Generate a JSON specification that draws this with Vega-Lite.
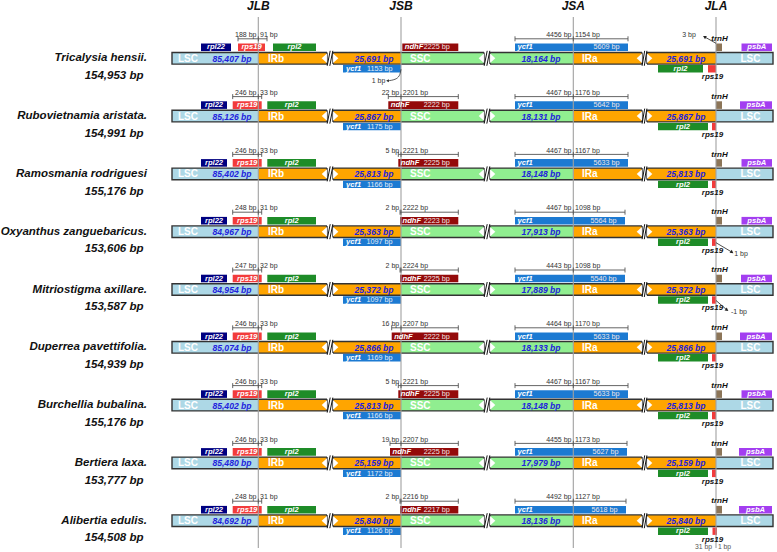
{
  "$schema": "https://vega.github.io/schema/vega-lite/v6.json",
  "width": 777,
  "height": 552,
  "autosize": {"type": "fit", "contains": "padding"},
  "padding": 0,
  "background": "white",
  "config": {
    "view": {"stroke": null},
    "font": "Liberation Sans",
    "axis": {"disable": true},
    "legend": {"disable": true}
  },
  "datasets": {
    "species": [
      {"row": 0, "name": "Tricalysia hensii.", "total": "154,953 bp", "LSC": "85,407 bp", "IRb": "25,691 bp", "SSC": "18,164 bp", "IRa": "25,691 bp", "LSC2": ""},
      {"row": 1, "name": "Rubovietnamia aristata.", "total": "154,991 bp", "LSC": "85,126 bp", "IRb": "25,867 bp", "SSC": "18,131 bp", "IRa": "25,867 bp", "LSC2": ""},
      {"row": 2, "name": "Ramosmania rodriguesi", "total": "155,176 bp", "LSC": "85,402 bp", "IRb": "25,813 bp", "SSC": "18,148 bp", "IRa": "25,813 bp", "LSC2": ""},
      {"row": 3, "name": "Oxyanthus zanguebaricus.", "total": "153,606 bp", "LSC": "84,967 bp", "IRb": "25,363 bp", "SSC": "17,913 bp", "IRa": "25,363 bp", "LSC2": ""},
      {"row": 4, "name": "Mitriostigma axillare.", "total": "153,587 bp", "LSC": "84,954 bp", "IRb": "25,372 bp", "SSC": "17,889 bp", "IRa": "25,372 bp", "LSC2": ""},
      {"row": 5, "name": "Duperrea pavettifolia.", "total": "154,939 bp", "LSC": "85,074 bp", "IRb": "25,866 bp", "SSC": "18,133 bp", "IRa": "25,866 bp", "LSC2": ""},
      {"row": 6, "name": "Burchellia bubalina.", "total": "155,176 bp", "LSC": "85,402 bp", "IRb": "25,813 bp", "SSC": "18,148 bp", "IRa": "25,813 bp", "LSC2": ""},
      {"row": 7, "name": "Bertiera laxa.", "total": "153,777 bp", "LSC": "85,480 bp", "IRb": "25,159 bp", "SSC": "17,979 bp", "IRa": "25,159 bp", "LSC2": ""},
      {"row": 8, "name": "Alibertia edulis.", "total": "154,508 bp", "LSC": "84,692 bp", "IRb": "25,840 bp", "SSC": "18,136 bp", "IRa": "25,840 bp", "LSC2": ""}
    ],
    "regions": [
      {"key": "LSC", "label": "LSC", "start": 172, "end": 258.3, "nameX": 178, "sizeX": 232},
      {"key": "IRb", "label": "IRb", "start": 258.3, "end": 401, "nameX": 268, "sizeX": 374},
      {"key": "SSC", "label": "SSC", "start": 401, "end": 573.3, "nameX": 410, "sizeX": 541},
      {"key": "IRa", "label": "IRa", "start": 573.3, "end": 716, "nameX": 582, "sizeX": 686},
      {"key": "LSC2", "label": "LSC", "start": 716, "end": 773, "nameX": 740.5, "sizeX": 744}
    ],
    "breaks": [
      {"key": "IRb", "gs": 327, "ge": 333, "t1": 324.3, "t2": 335.7, "s1a": 327.2, "s1b": 330.2, "s2a": 329.8, "s2b": 332.8},
      {"key": "SSC", "gs": 484, "ge": 490, "t1": 481.3, "t2": 492.7, "s1a": 484.2, "s1b": 487.2, "s2a": 486.8, "s2b": 489.8},
      {"key": "IRa", "gs": 642, "ge": 647, "t1": 639.3, "t2": 649.7, "s1a": 642.1, "s1b": 644.7, "s2a": 644.3, "s2b": 646.9}
    ],
    "junctions": [
      {"name": "JLB", "pos": 258.3},
      {"name": "JSB", "pos": 401},
      {"name": "JSA", "pos": 573.3},
      {"name": "JLA", "pos": 716}
    ],
    "genes": [
      {"row": 0, "gene": "rpl22", "lane": "up", "start": 201, "end": 231, "label": "rpl22", "style": "c"},
      {"row": 0, "gene": "rps19", "lane": "up", "start": 238, "end": 265, "label": "rps19", "style": "c"},
      {"row": 0, "gene": "rpl2", "lane": "up", "start": 273, "end": 316, "label": "rpl2", "style": "c"},
      {"row": 0, "gene": "ndhF", "lane": "up", "start": 402.3, "end": 458.3, "label": "ndhF", "len": "2225 bp", "style": "l"},
      {"row": 0, "gene": "ycf1", "lane": "up", "start": 515, "end": 628, "label": "ycf1", "len": "5609 bp", "style": "l"},
      {"row": 0, "gene": "trnH", "lane": "up", "start": 716, "end": 722, "style": "n"},
      {"row": 0, "gene": "psbA", "lane": "up", "start": 741.5, "end": 772, "label": "psbA", "style": "c"},
      {"row": 0, "gene": "ycf1", "lane": "down", "start": 343, "end": 401, "label": "ycf1", "len": "1153 bp", "style": "l"},
      {"row": 0, "gene": "rpl2", "lane": "down", "start": 658, "end": 703, "label": "rpl2", "style": "c"},
      {"row": 0, "gene": "rps19", "lane": "down", "start": 708, "end": 716, "style": "n"},

      {"row": 1, "gene": "rpl22", "lane": "up", "start": 201, "end": 227, "label": "rpl22", "style": "c"},
      {"row": 1, "gene": "rps19", "lane": "up", "start": 232.7, "end": 261.7, "label": "rps19", "style": "c"},
      {"row": 1, "gene": "rpl2", "lane": "up", "start": 267.3, "end": 316, "label": "rpl2", "style": "c"},
      {"row": 1, "gene": "ndhF", "lane": "up", "start": 388.3, "end": 458.3, "label": "ndhF", "len": "2222 bp", "style": "l"},
      {"row": 1, "gene": "ycf1", "lane": "up", "start": 515, "end": 628, "label": "ycf1", "len": "5642 bp", "style": "l"},
      {"row": 1, "gene": "trnH", "lane": "up", "start": 716, "end": 722, "style": "n"},
      {"row": 1, "gene": "psbA", "lane": "up", "start": 740, "end": 772, "label": "psbA", "style": "c"},
      {"row": 1, "gene": "ycf1", "lane": "down", "start": 343, "end": 401, "label": "ycf1", "len": "1175 bp", "style": "l"},
      {"row": 1, "gene": "rpl2", "lane": "down", "start": 658, "end": 708, "label": "rpl2", "style": "c"},
      {"row": 1, "gene": "rps19", "lane": "down", "start": 712, "end": 716, "style": "n"},

      {"row": 2, "gene": "rpl22", "lane": "up", "start": 201, "end": 227, "label": "rpl22", "style": "c"},
      {"row": 2, "gene": "rps19", "lane": "up", "start": 232.7, "end": 261.7, "label": "rps19", "style": "c"},
      {"row": 2, "gene": "rpl2", "lane": "up", "start": 267.3, "end": 316, "label": "rpl2", "style": "c"},
      {"row": 2, "gene": "ndhF", "lane": "up", "start": 398.3, "end": 458.3, "label": "ndhF", "len": "2225 bp", "style": "l"},
      {"row": 2, "gene": "ycf1", "lane": "up", "start": 515, "end": 628, "label": "ycf1", "len": "5633 bp", "style": "l"},
      {"row": 2, "gene": "trnH", "lane": "up", "start": 716, "end": 722, "style": "n"},
      {"row": 2, "gene": "psbA", "lane": "up", "start": 741.5, "end": 772, "label": "psbA", "style": "c"},
      {"row": 2, "gene": "ycf1", "lane": "down", "start": 343, "end": 401, "label": "ycf1", "len": "1166 bp", "style": "l"},
      {"row": 2, "gene": "rpl2", "lane": "down", "start": 658, "end": 708, "label": "rpl2", "style": "c"},
      {"row": 2, "gene": "rps19", "lane": "down", "start": 712, "end": 716, "style": "n"},

      {"row": 3, "gene": "rpl22", "lane": "up", "start": 201, "end": 227, "label": "rpl22", "style": "c"},
      {"row": 3, "gene": "rps19", "lane": "up", "start": 232.7, "end": 261.7, "label": "rps19", "style": "c"},
      {"row": 3, "gene": "rpl2", "lane": "up", "start": 267.3, "end": 316, "label": "rpl2", "style": "c"},
      {"row": 3, "gene": "ndhF", "lane": "up", "start": 400, "end": 458.3, "label": "ndhF", "len": "2223 bp", "style": "l"},
      {"row": 3, "gene": "ycf1", "lane": "up", "start": 515, "end": 625, "label": "ycf1", "len": "5564 bp", "style": "l"},
      {"row": 3, "gene": "trnH", "lane": "up", "start": 716, "end": 722, "style": "n"},
      {"row": 3, "gene": "psbA", "lane": "up", "start": 741.5, "end": 772, "label": "psbA", "style": "c"},
      {"row": 3, "gene": "ycf1", "lane": "down", "start": 343, "end": 401, "label": "ycf1", "len": "1097 bp", "style": "l"},
      {"row": 3, "gene": "rpl2", "lane": "down", "start": 658, "end": 708, "label": "rpl2", "style": "c"},
      {"row": 3, "gene": "rps19", "lane": "down", "start": 712, "end": 716, "style": "n"},

      {"row": 4, "gene": "rpl22", "lane": "up", "start": 201, "end": 227, "label": "rpl22", "style": "c"},
      {"row": 4, "gene": "rps19", "lane": "up", "start": 232.7, "end": 261.7, "label": "rps19", "style": "c"},
      {"row": 4, "gene": "rpl2", "lane": "up", "start": 267.3, "end": 316, "label": "rpl2", "style": "c"},
      {"row": 4, "gene": "ndhF", "lane": "up", "start": 400, "end": 458.3, "label": "ndhF", "len": "2225 bp", "style": "l"},
      {"row": 4, "gene": "ycf1", "lane": "up", "start": 515, "end": 625, "label": "ycf1", "len": "5540 bp", "style": "l"},
      {"row": 4, "gene": "trnH", "lane": "up", "start": 716, "end": 722, "style": "n"},
      {"row": 4, "gene": "psbA", "lane": "up", "start": 741, "end": 772, "label": "psbA", "style": "c"},
      {"row": 4, "gene": "ycf1", "lane": "down", "start": 343, "end": 401, "label": "ycf1", "len": "1097 bp", "style": "l"},
      {"row": 4, "gene": "rpl2", "lane": "down", "start": 658, "end": 708, "label": "rpl2", "style": "c"},
      {"row": 4, "gene": "rps19", "lane": "down", "start": 712, "end": 716, "style": "n"},

      {"row": 5, "gene": "rpl22", "lane": "up", "start": 201, "end": 227, "label": "rpl22", "style": "c"},
      {"row": 5, "gene": "rps19", "lane": "up", "start": 232.7, "end": 261.7, "label": "rps19", "style": "c"},
      {"row": 5, "gene": "rpl2", "lane": "up", "start": 267.3, "end": 316, "label": "rpl2", "style": "c"},
      {"row": 5, "gene": "ndhF", "lane": "up", "start": 391.7, "end": 458.3, "label": "ndhF", "len": "2222 bp", "style": "l"},
      {"row": 5, "gene": "ycf1", "lane": "up", "start": 515, "end": 628, "label": "ycf1", "len": "5633 bp", "style": "l"},
      {"row": 5, "gene": "trnH", "lane": "up", "start": 716, "end": 722, "style": "n"},
      {"row": 5, "gene": "psbA", "lane": "up", "start": 740, "end": 772, "label": "psbA", "style": "c"},
      {"row": 5, "gene": "ycf1", "lane": "down", "start": 343, "end": 401, "label": "ycf1", "len": "1169 bp", "style": "l"},
      {"row": 5, "gene": "rpl2", "lane": "down", "start": 658, "end": 708, "label": "rpl2", "style": "c"},
      {"row": 5, "gene": "rps19", "lane": "down", "start": 712, "end": 716, "style": "n"},

      {"row": 6, "gene": "rpl22", "lane": "up", "start": 201, "end": 227, "label": "rpl22", "style": "c"},
      {"row": 6, "gene": "rps19", "lane": "up", "start": 232.7, "end": 261.7, "label": "rps19", "style": "c"},
      {"row": 6, "gene": "rpl2", "lane": "up", "start": 267.3, "end": 316, "label": "rpl2", "style": "c"},
      {"row": 6, "gene": "ndhF", "lane": "up", "start": 398.3, "end": 458.3, "label": "ndhF", "len": "2225 bp", "style": "l"},
      {"row": 6, "gene": "ycf1", "lane": "up", "start": 515, "end": 628, "label": "ycf1", "len": "5633 bp", "style": "l"},
      {"row": 6, "gene": "trnH", "lane": "up", "start": 716, "end": 722, "style": "n"},
      {"row": 6, "gene": "psbA", "lane": "up", "start": 741.5, "end": 772, "label": "psbA", "style": "c"},
      {"row": 6, "gene": "ycf1", "lane": "down", "start": 343, "end": 401, "label": "ycf1", "len": "1166 bp", "style": "l"},
      {"row": 6, "gene": "rpl2", "lane": "down", "start": 658, "end": 708, "label": "rpl2", "style": "c"},
      {"row": 6, "gene": "rps19", "lane": "down", "start": 712, "end": 716, "style": "n"},

      {"row": 7, "gene": "rpl22", "lane": "up", "start": 201, "end": 227, "label": "rpl22", "style": "c"},
      {"row": 7, "gene": "rps19", "lane": "up", "start": 232.7, "end": 261.7, "label": "rps19", "style": "c"},
      {"row": 7, "gene": "rpl2", "lane": "up", "start": 267.3, "end": 316, "label": "rpl2", "style": "c"},
      {"row": 7, "gene": "ndhF", "lane": "up", "start": 390, "end": 458.3, "label": "ndhF", "len": "2225 bp", "style": "l"},
      {"row": 7, "gene": "ycf1", "lane": "up", "start": 515, "end": 627, "label": "ycf1", "len": "5627 bp", "style": "l"},
      {"row": 7, "gene": "trnH", "lane": "up", "start": 716, "end": 722, "style": "n"},
      {"row": 7, "gene": "psbA", "lane": "up", "start": 739, "end": 772, "label": "psbA", "style": "c"},
      {"row": 7, "gene": "ycf1", "lane": "down", "start": 343, "end": 401, "label": "ycf1", "len": "1172 bp", "style": "l"},
      {"row": 7, "gene": "rpl2", "lane": "down", "start": 658, "end": 708, "label": "rpl2", "style": "c"},
      {"row": 7, "gene": "rps19", "lane": "down", "start": 712, "end": 716, "style": "n"},

      {"row": 8, "gene": "rpl22", "lane": "up", "start": 201, "end": 227, "label": "rpl22", "style": "c"},
      {"row": 8, "gene": "rps19", "lane": "up", "start": 232.7, "end": 261.7, "label": "rps19", "style": "c"},
      {"row": 8, "gene": "rpl2", "lane": "up", "start": 267.3, "end": 316, "label": "rpl2", "style": "c"},
      {"row": 8, "gene": "ndhF", "lane": "up", "start": 400, "end": 458.3, "label": "ndhF", "len": "2217 bp", "style": "l"},
      {"row": 8, "gene": "ycf1", "lane": "up", "start": 515, "end": 626, "label": "ycf1", "len": "5618 bp", "style": "l"},
      {"row": 8, "gene": "trnH", "lane": "up", "start": 716, "end": 722, "style": "n"},
      {"row": 8, "gene": "psbA", "lane": "up", "start": 739, "end": 772, "label": "psbA", "style": "c"},
      {"row": 8, "gene": "ycf1", "lane": "down", "start": 343, "end": 401, "label": "ycf1", "len": "1126 bp", "style": "l"},
      {"row": 8, "gene": "rpl2", "lane": "down", "start": 658, "end": 708, "label": "rpl2", "style": "c"},
      {"row": 8, "gene": "rps19", "lane": "down", "start": 712.5, "end": 717, "style": "n"}
    ],
    "brackets": [
      {"row": 0, "a": 238, "j": 258.3, "b": 267, "lt": "188 bp", "rt": "91 bp"},
      {"row": 1, "a": 232.7, "j": 258.3, "b": 261.7, "lt": "246 bp", "rt": "33 bp"},
      {"row": 2, "a": 232.7, "j": 258.3, "b": 261.7, "lt": "246 bp", "rt": "33 bp"},
      {"row": 3, "a": 232.7, "j": 258.3, "b": 261.7, "lt": "248 bp", "rt": "31 bp"},
      {"row": 4, "a": 232.7, "j": 258.3, "b": 261.7, "lt": "247 bp", "rt": "32 bp"},
      {"row": 5, "a": 232.7, "j": 258.3, "b": 261.7, "lt": "246 bp", "rt": "33 bp"},
      {"row": 6, "a": 232.7, "j": 258.3, "b": 261.7, "lt": "246 bp", "rt": "33 bp"},
      {"row": 7, "a": 232.7, "j": 258.3, "b": 261.7, "lt": "246 bp", "rt": "33 bp"},
      {"row": 8, "a": 232.7, "j": 258.3, "b": 261.7, "lt": "248 bp", "rt": "31 bp"},
      {"row": 1, "a": 388.3, "j": 401, "b": 458.3, "lt": "22 bp", "rt": "2201 bp"},
      {"row": 2, "a": 398.3, "j": 401, "b": 458.3, "lt": "5 bp", "rt": "2221 bp"},
      {"row": 3, "a": 400, "j": 401, "b": 458.3, "lt": "2 bp", "rt": "2222 bp"},
      {"row": 4, "a": 400, "j": 401, "b": 458.3, "lt": "2 bp", "rt": "2224 bp"},
      {"row": 5, "a": 391.7, "j": 401, "b": 458.3, "lt": "16 bp", "rt": "2207 bp"},
      {"row": 6, "a": 398.3, "j": 401, "b": 458.3, "lt": "5 bp", "rt": "2221 bp"},
      {"row": 7, "a": 390, "j": 401, "b": 458.3, "lt": "19 bp", "rt": "2207 bp"},
      {"row": 8, "a": 400, "j": 401, "b": 458.3, "lt": "2 bp", "rt": "2216 bp"},
      {"row": 0, "a": 515, "j": 573.3, "b": 628, "lt": "4456 bp", "rt": "1154 bp"},
      {"row": 1, "a": 515, "j": 573.3, "b": 628, "lt": "4467 bp", "rt": "1176 bp"},
      {"row": 2, "a": 515, "j": 573.3, "b": 628, "lt": "4467 bp", "rt": "1167 bp"},
      {"row": 3, "a": 515, "j": 573.3, "b": 625, "lt": "4467 bp", "rt": "1098 bp"},
      {"row": 4, "a": 515, "j": 573.3, "b": 625, "lt": "4443 bp", "rt": "1098 bp"},
      {"row": 5, "a": 515, "j": 573.3, "b": 628, "lt": "4464 bp", "rt": "1170 bp"},
      {"row": 6, "a": 515, "j": 573.3, "b": 628, "lt": "4467 bp", "rt": "1167 bp"},
      {"row": 7, "a": 515, "j": 573.3, "b": 627, "lt": "4455 bp", "rt": "1173 bp"},
      {"row": 8, "a": 515, "j": 573.3, "b": 626, "lt": "4492 bp", "rt": "1127 bp"}
    ],
    "arrows": [
      {"row": 0, "x1": 716, "x2": 704.5, "dir": "up"},
      {"row": 3, "x1": 716, "x2": 732, "dir": "down"},
      {"row": 4, "x1": 716, "x2": 727, "dir": "down"}
    ],
    "curve": [
      {"cx": 387.5, "cy": 0.389},
      {"cx": 395, "cy": 0.363},
      {"cx": 399.5, "cy": 0.294},
      {"cx": 401, "cy": 0.19}
    ],
    "notes": [
      {"row": 0, "x": 689, "lane": "up", "text": "3 bp"},
      {"row": 0, "x": 378.5, "lane": "down", "text": "1 bp"},
      {"row": 3, "x": 741, "lane": "down", "text": "1 bp"},
      {"row": 4, "x": 739, "lane": "down", "text": "-1 bp"},
      {"row": 8, "x": 703.5, "lane": "down2", "text": "31 bp"},
      {"row": 8, "x": 724.5, "lane": "down2", "text": "1 bp"}
    ]
  },
  "layer": [
    {
      "data": {"name": "species"},
      "transform": [
        {"fold": ["LSC", "IRb", "SSC", "IRa", "LSC2"], "as": ["key", "size"]},
        {"lookup": "key", "from": {"data": {"name": "regions"}, "key": "key", "fields": ["start", "end", "nameX", "sizeX", "label"]}}
      ],
      "mark": {"type": "rect", "yOffset": -5.8, "y2Offset": 5.8},
      "encoding": {
        "x": {"field": "start", "type": "quantitative", "scale": {"domain": [0, 777], "nice": false, "zero": false}, "axis": null},
        "x2": {"field": "end"},
        "y": {"field": "row", "type": "quantitative", "scale": {"domain": [-1.00865, 8.54152], "reverse": true, "nice": false, "zero": false}, "axis": null},
        "y2": {"field": "row"},
        "color": {
          "field": "key", "type": "nominal", "legend": null,
          "scale": {
            "domain": ["LSC", "IRb", "SSC", "IRa", "LSC2", "rpl22", "rps19", "rpl2", "ndhF", "ycf1", "trnH", "psbA"],
            "range": ["#ADD8E6", "#FFA500", "#90EE90", "#FFA500", "#ADD8E6", "#000080", "#F23B3B", "#1E8C28", "#940A0A", "#1C7AD2", "#8C7558", "#A33EF0"]
          }
        }
      }
    },
    {
      "data": {"name": "species"},
      "mark": {"type": "rect", "filled": false, "stroke": "#333333", "strokeWidth": 1.4, "yOffset": -5.8, "y2Offset": 5.8},
      "encoding": {
        "x": {"datum": 172, "type": "quantitative"},
        "x2": {"datum": 773},
        "y": {"field": "row", "type": "quantitative"},
        "y2": {"field": "row"}
      }
    },
    {
      "data": {"name": "species"},
      "transform": [
        {"fold": ["IRb", "SSC", "IRa"], "as": ["key", "v"]},
        {"lookup": "key", "from": {"data": {"name": "breaks"}, "key": "key", "fields": ["gs", "ge"]}}
      ],
      "mark": {"type": "rect", "color": "white", "yOffset": -9, "y2Offset": 9},
      "encoding": {
        "x": {"field": "gs", "type": "quantitative"},
        "x2": {"field": "ge"},
        "y": {"field": "row", "type": "quantitative"},
        "y2": {"field": "row"}
      }
    },
    {
      "data": {"name": "species"},
      "transform": [
        {"fold": ["IRb", "SSC", "IRa"], "as": ["key", "v"]},
        {"lookup": "key", "from": {"data": {"name": "breaks"}, "key": "key", "fields": ["gs", "ge"]}},
        {"fold": ["gs", "ge"], "as": ["e", "ex"]}
      ],
      "mark": {"type": "rule", "color": "#333333", "strokeWidth": 1.4, "yOffset": -5.8, "y2Offset": 5.8},
      "encoding": {
        "x": {"field": "ex", "type": "quantitative"},
        "y": {"field": "row", "type": "quantitative"},
        "y2": {"field": "row"}
      }
    },
    {
      "data": {"name": "species"},
      "transform": [
        {"fold": ["IRb", "SSC", "IRa"], "as": ["key", "v"]},
        {"lookup": "key", "from": {"data": {"name": "breaks"}, "key": "key", "fields": ["s1a", "s1b"]}}
      ],
      "mark": {"type": "rule", "color": "#111111", "strokeWidth": 1, "yOffset": 7.5, "y2Offset": -7.5},
      "encoding": {
        "x": {"field": "s1a", "type": "quantitative"},
        "x2": {"field": "s1b"},
        "y": {"field": "row", "type": "quantitative"},
        "y2": {"field": "row"}
      }
    },
    {
      "data": {"name": "species"},
      "transform": [
        {"fold": ["IRb", "SSC", "IRa"], "as": ["key", "v"]},
        {"lookup": "key", "from": {"data": {"name": "breaks"}, "key": "key", "fields": ["s2a", "s2b"]}}
      ],
      "mark": {"type": "rule", "color": "#111111", "strokeWidth": 1, "yOffset": 7.5, "y2Offset": -7.5},
      "encoding": {
        "x": {"field": "s2a", "type": "quantitative"},
        "x2": {"field": "s2b"},
        "y": {"field": "row", "type": "quantitative"},
        "y2": {"field": "row"}
      }
    },
    {
      "data": {"name": "species"},
      "transform": [
        {"fold": ["IRb", "SSC", "IRa"], "as": ["key", "v"]},
        {"lookup": "key", "from": {"data": {"name": "breaks"}, "key": "key", "fields": ["t1"]}}
      ],
      "mark": {"type": "point", "shape": "M0.55,-1L-0.55,0L0.55,1Z", "size": 90, "filled": true, "color": "white", "opacity": 1, "strokeWidth": 0},
      "encoding": {
        "x": {"field": "t1", "type": "quantitative"},
        "y": {"field": "row", "type": "quantitative"}
      }
    },
    {
      "data": {"name": "species"},
      "transform": [
        {"fold": ["IRb", "SSC", "IRa"], "as": ["key", "v"]},
        {"lookup": "key", "from": {"data": {"name": "breaks"}, "key": "key", "fields": ["t2"]}}
      ],
      "mark": {"type": "point", "shape": "M-0.55,-1L0.55,0L-0.55,1Z", "size": 90, "filled": true, "color": "white", "opacity": 1, "strokeWidth": 0},
      "encoding": {
        "x": {"field": "t2", "type": "quantitative"},
        "y": {"field": "row", "type": "quantitative"}
      }
    },
    {
      "data": {"name": "species"},
      "transform": [
        {"fold": ["LSC", "IRb", "SSC", "IRa", "LSC2"], "as": ["key", "size"]},
        {"lookup": "key", "from": {"data": {"name": "regions"}, "key": "key", "fields": ["nameX", "label"]}}
      ],
      "mark": {"type": "text", "align": "left", "baseline": "middle", "color": "white", "fontWeight": "bold", "fontSize": 10, "yOffset": 0.5},
      "encoding": {
        "x": {"field": "nameX", "type": "quantitative"},
        "y": {"field": "row", "type": "quantitative"},
        "text": {"field": "label"}
      }
    },
    {
      "data": {"name": "species"},
      "transform": [
        {"fold": ["LSC", "IRb", "SSC", "IRa", "LSC2"], "as": ["key", "size"]},
        {"filter": "datum.size != ''"},
        {"lookup": "key", "from": {"data": {"name": "regions"}, "key": "key", "fields": ["sizeX"]}}
      ],
      "mark": {"type": "text", "align": "center", "baseline": "middle", "color": "#2222DD", "fontWeight": "bold", "fontStyle": "italic", "fontSize": 8.6, "yOffset": 0.5},
      "encoding": {
        "x": {"field": "sizeX", "type": "quantitative"},
        "y": {"field": "row", "type": "quantitative"},
        "text": {"field": "size"}
      }
    },
    {
      "data": {"name": "genes"},
      "transform": [{"filter": "datum.lane == 'up'"}],
      "mark": {"type": "rect", "yOffset": -14.8, "y2Offset": -7.2},
      "encoding": {
        "x": {"field": "start", "type": "quantitative"},
        "x2": {"field": "end"},
        "y": {"field": "row", "type": "quantitative"},
        "y2": {"field": "row"},
        "color": {"field": "gene", "type": "nominal", "legend": null}
      }
    },
    {
      "data": {"name": "genes"},
      "transform": [{"filter": "datum.lane == 'down'"}],
      "mark": {"type": "rect", "yOffset": 6.8, "y2Offset": 14.2},
      "encoding": {
        "x": {"field": "start", "type": "quantitative"},
        "x2": {"field": "end"},
        "y": {"field": "row", "type": "quantitative"},
        "y2": {"field": "row"},
        "color": {"field": "gene", "type": "nominal", "legend": null}
      }
    },
    {
      "data": {"name": "junctions"},
      "mark": {"type": "rule", "color": "#A0A0A0", "strokeWidth": 1.1},
      "encoding": {
        "x": {"field": "pos", "type": "quantitative"},
        "y": {"datum": -0.7145, "type": "quantitative"},
        "y2": {"datum": 8.4723}
      }
    },
    {
      "data": {"name": "genes"},
      "transform": [
        {"filter": "datum.lane == 'up' && datum.style == 'c'"},
        {"fold": ["start", "end"], "as": ["edge", "pos"]}
      ],
      "mark": {"type": "text", "align": "center", "baseline": "middle", "color": "white", "fontWeight": "bold", "fontStyle": "italic", "fontSize": 7.6, "yOffset": -10.8},
      "encoding": {
        "x": {"aggregate": "mean", "field": "pos", "type": "quantitative"},
        "y": {"field": "row", "type": "quantitative"},
        "text": {"field": "label"},
        "detail": {"field": "gene"}
      }
    },
    {
      "data": {"name": "genes"},
      "transform": [
        {"filter": "datum.lane == 'down' && datum.style == 'c'"},
        {"fold": ["start", "end"], "as": ["edge", "pos"]}
      ],
      "mark": {"type": "text", "align": "center", "baseline": "middle", "color": "white", "fontWeight": "bold", "fontStyle": "italic", "fontSize": 7.6, "yOffset": 10.6},
      "encoding": {
        "x": {"aggregate": "mean", "field": "pos", "type": "quantitative"},
        "y": {"field": "row", "type": "quantitative"},
        "text": {"field": "label"},
        "detail": {"field": "gene"}
      }
    },
    {
      "data": {"name": "genes"},
      "transform": [{"filter": "datum.lane == 'up' && datum.style == 'l'"}],
      "mark": {"type": "text", "align": "left", "baseline": "middle", "dx": 2.5, "color": "white", "fontWeight": "bold", "fontStyle": "italic", "fontSize": 7.6, "yOffset": -10.8},
      "encoding": {
        "x": {"field": "start", "type": "quantitative"},
        "y": {"field": "row", "type": "quantitative"},
        "text": {"field": "label"}
      }
    },
    {
      "data": {"name": "genes"},
      "transform": [{"filter": "datum.lane == 'down' && datum.style == 'l'"}],
      "mark": {"type": "text", "align": "left", "baseline": "middle", "dx": 3, "color": "white", "fontWeight": "bold", "fontStyle": "italic", "fontSize": 7.6, "yOffset": 10.6},
      "encoding": {
        "x": {"field": "start", "type": "quantitative"},
        "y": {"field": "row", "type": "quantitative"},
        "text": {"field": "label"}
      }
    },
    {
      "data": {"name": "genes"},
      "transform": [{"filter": "datum.lane == 'up' && datum.style == 'l'"}],
      "mark": {"type": "text", "align": "right", "baseline": "middle", "dx": -8.5, "color": "#F2E6E6", "fontSize": 7.2, "yOffset": -10.8},
      "encoding": {
        "x": {"field": "end", "type": "quantitative"},
        "y": {"field": "row", "type": "quantitative"},
        "text": {"field": "len"}
      }
    },
    {
      "data": {"name": "genes"},
      "transform": [{"filter": "datum.lane == 'down' && datum.style == 'l'"}],
      "mark": {"type": "text", "align": "right", "baseline": "middle", "dx": -8.5, "color": "#E6EEF8", "fontSize": 7.2, "yOffset": 10.6},
      "encoding": {
        "x": {"field": "end", "type": "quantitative"},
        "y": {"field": "row", "type": "quantitative"},
        "text": {"field": "len"}
      }
    },
    {
      "data": {"name": "brackets"},
      "mark": {"type": "rule", "color": "#555555", "strokeWidth": 0.9, "yOffset": -19.5},
      "encoding": {
        "x": {"field": "a", "type": "quantitative"},
        "x2": {"field": "b"},
        "y": {"field": "row", "type": "quantitative"}
      }
    },
    {
      "data": {"name": "brackets"},
      "transform": [{"fold": ["a", "j", "b"], "as": ["k", "tx"]}],
      "mark": {"type": "rule", "color": "#555555", "strokeWidth": 0.9, "yOffset": -22, "y2Offset": -17},
      "encoding": {
        "x": {"field": "tx", "type": "quantitative"},
        "y": {"field": "row", "type": "quantitative"},
        "y2": {"field": "row"}
      }
    },
    {
      "data": {"name": "brackets"},
      "mark": {"type": "text", "align": "right", "baseline": "middle", "dx": -1.8, "color": "#333333", "fontSize": 7, "yOffset": -23.3},
      "encoding": {
        "x": {"field": "j", "type": "quantitative"},
        "y": {"field": "row", "type": "quantitative"},
        "text": {"field": "lt"}
      }
    },
    {
      "data": {"name": "brackets"},
      "mark": {"type": "text", "align": "left", "baseline": "middle", "dx": 1.8, "color": "#333333", "fontSize": 7, "yOffset": -23.3},
      "encoding": {
        "x": {"field": "j", "type": "quantitative"},
        "y": {"field": "row", "type": "quantitative"},
        "text": {"field": "rt"}
      }
    },
    {
      "data": {"name": "species"},
      "mark": {"type": "text", "align": "right", "baseline": "middle", "color": "#111111", "fontWeight": "bold", "fontStyle": "italic", "fontSize": 11.5},
      "encoding": {
        "x": {"datum": 147, "type": "quantitative"},
        "y": {"field": "row", "type": "quantitative"},
        "text": {"field": "name"}
      }
    },
    {
      "data": {"name": "species"},
      "mark": {"type": "text", "align": "right", "baseline": "middle", "color": "#111111", "fontWeight": "bold", "fontStyle": "italic", "fontSize": 11.5, "yOffset": 17.7},
      "encoding": {
        "x": {"datum": 143.5, "type": "quantitative"},
        "y": {"field": "row", "type": "quantitative"},
        "text": {"field": "total"}
      }
    },
    {
      "data": {"name": "species"},
      "mark": {"type": "text", "align": "center", "baseline": "middle", "color": "#111111", "fontWeight": "bold", "fontStyle": "italic", "fontSize": 8, "yOffset": -19.3, "text": "trnH"},
      "encoding": {
        "x": {"datum": 719.5, "type": "quantitative"},
        "y": {"field": "row", "type": "quantitative"}
      }
    },
    {
      "data": {"name": "species"},
      "mark": {"type": "text", "align": "center", "baseline": "middle", "color": "#111111", "fontWeight": "bold", "fontStyle": "italic", "fontSize": 8, "yOffset": 18.8, "text": "rps19"},
      "encoding": {
        "x": {"datum": 712.5, "type": "quantitative"},
        "y": {"field": "row", "type": "quantitative"}
      }
    },
    {
      "data": {"name": "arrows"},
      "transform": [{"filter": "datum.dir == 'up'"}],
      "mark": {"type": "rule", "color": "#222222", "strokeWidth": 0.8, "yOffset": -15, "y2Offset": -21.5},
      "encoding": {
        "x": {"field": "x1", "type": "quantitative"},
        "x2": {"field": "x2"},
        "y": {"field": "row", "type": "quantitative"},
        "y2": {"field": "row"}
      }
    },
    {
      "data": {"name": "arrows"},
      "transform": [{"filter": "datum.dir == 'up'"}],
      "mark": {"type": "point", "shape": "triangle-up", "angle": 298, "size": 14, "filled": true, "color": "#222222", "opacity": 1, "yOffset": -21.5},
      "encoding": {
        "x": {"field": "x2", "type": "quantitative"},
        "y": {"field": "row", "type": "quantitative"}
      }
    },
    {
      "data": {"name": "arrows"},
      "transform": [{"filter": "datum.dir == 'down'"}],
      "mark": {"type": "rule", "color": "#222222", "strokeWidth": 0.8, "yOffset": 11, "y2Offset": 20.5},
      "encoding": {
        "x": {"field": "x1", "type": "quantitative"},
        "x2": {"field": "x2"},
        "y": {"field": "row", "type": "quantitative"},
        "y2": {"field": "row"}
      }
    },
    {
      "data": {"name": "arrows"},
      "transform": [{"filter": "datum.dir == 'down'"}],
      "mark": {"type": "point", "shape": "triangle-up", "angle": 125, "size": 14, "filled": true, "color": "#222222", "opacity": 1, "yOffset": 20.5},
      "encoding": {
        "x": {"field": "x2", "type": "quantitative"},
        "y": {"field": "row", "type": "quantitative"}
      }
    },
    {
      "data": {"name": "curve"},
      "mark": {"type": "line", "color": "#333333", "strokeWidth": 0.8, "interpolate": "monotone"},
      "encoding": {
        "x": {"field": "cx", "type": "quantitative"},
        "y": {"field": "cy", "type": "quantitative"}
      }
    },
    {
      "data": {"name": "curve"},
      "transform": [{"filter": "datum.cx < 388"}],
      "mark": {"type": "point", "shape": "triangle-left", "size": 10, "filled": true, "color": "#333333", "opacity": 1},
      "encoding": {
        "x": {"field": "cx", "type": "quantitative"},
        "y": {"field": "cy", "type": "quantitative"}
      }
    },
    {
      "data": {"name": "notes"},
      "transform": [{"filter": "datum.lane == 'up'"}],
      "mark": {"type": "text", "align": "center", "baseline": "middle", "color": "#333333", "fontSize": 7, "yOffset": -23},
      "encoding": {
        "x": {"field": "x", "type": "quantitative"},
        "y": {"field": "row", "type": "quantitative"},
        "text": {"field": "text"}
      }
    },
    {
      "data": {"name": "notes"},
      "transform": [{"filter": "datum.lane == 'down'"}],
      "mark": {"type": "text", "align": "center", "baseline": "middle", "color": "#333333", "fontSize": 7, "yOffset": 22.6},
      "encoding": {
        "x": {"field": "x", "type": "quantitative"},
        "y": {"field": "row", "type": "quantitative"},
        "text": {"field": "text"}
      }
    },
    {
      "data": {"name": "notes"},
      "transform": [{"filter": "datum.lane == 'down2'"}],
      "mark": {"type": "text", "align": "center", "baseline": "middle", "color": "#555555", "fontSize": 6.8, "yOffset": 26.3},
      "encoding": {
        "x": {"field": "x", "type": "quantitative"},
        "y": {"field": "row", "type": "quantitative"},
        "text": {"field": "text"}
      }
    },
    {
      "data": {"name": "junctions"},
      "mark": {"type": "text", "align": "center", "baseline": "middle", "color": "#111111", "fontWeight": "bold", "fontStyle": "italic", "fontSize": 12},
      "encoding": {
        "x": {"field": "pos", "type": "quantitative"},
        "y": {"datum": -0.8962, "type": "quantitative"},
        "text": {"field": "name"}
      }
    }
  ]
}
